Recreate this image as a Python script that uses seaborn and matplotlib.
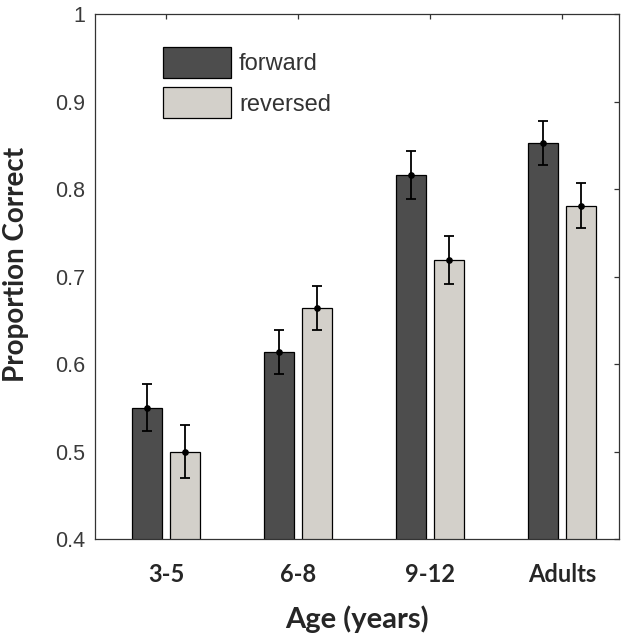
import matplotlib
matplotlib.use("Agg")
import matplotlib.pyplot as plt
import seaborn as sns
import pandas as pd
import numpy as np

ages = ["3-5", "6-8", "9-12", "Adults"]
conditions = ["forward", "reversed"]
forward = [0.550, 0.614, 0.816, 0.853]
reversed_ = [0.500, 0.664, 0.719, 0.781]
forward_err = [0.027, 0.025, 0.027, 0.025]
reversed_err = [0.030, 0.025, 0.027, 0.026]
yticks = [0.4, 0.5, 0.6, 0.7, 0.8, 0.9, 1.0]
ytick_labels = ["0.4", "0.5", "0.6", "0.7", "0.8", "0.9", "1"]

df = pd.DataFrame({
    "age": ages * 2,
    "cond": [conditions[0]] * 4 + [conditions[1]] * 4,
    "value": forward + reversed_,
})
errs = {conditions[0]: forward_err, conditions[1]: reversed_err}

sns.set_theme(style="white")
fig = plt.figure(figsize=(6.24, 6.37), dpi=100)
ax = fig.add_axes([95 / 624, 1 - 539 / 637, (619 - 95) / 624, (539 - 14) / 637])

sns.barplot(data=df, x="age", y="value", hue="cond", order=ages,
            hue_order=conditions,
            palette={"forward": "#4d4d4d", "reversed": "#d4d0c8"},
            width=0.576, gap=0.21, edgecolor="black", linewidth=0.9,
            errorbar=None, ax=ax, legend=True)

for cont, cond in zip(ax.containers, conditions):
    xs = [p.get_x() + p.get_width() / 2 for p in cont.patches]
    ys = [p.get_y() + p.get_height() for p in cont.patches]
    ax.errorbar(xs, ys, yerr=errs[cond], fmt="o", color="black", ms=3.8,
                elinewidth=1.3, capsize=3.8, capthick=1.3, zorder=5)

ax.set_ylim(0.4, 1.0)
ax.set_xlim(-0.538, 3.43)
ax.set_yticks(yticks)
ax.set_yticklabels(ytick_labels, fontfamily="Liberation Sans", fontsize=15.5,
                   color="#3a3a3a")
ax.set_xticks(range(len(ages)))
ax.set_xticklabels(ages, fontfamily="Lato", fontweight="bold", fontsize=17)
ax.tick_params(axis="both", direction="in", length=3.8, width=0.9,
               top=True, right=True, color="#333333")
ax.tick_params(axis="x", pad=17)
ax.tick_params(axis="y", pad=7)
for s in ax.spines.values():
    s.set_visible(True)
    s.set_color("#333333")
    s.set_linewidth(0.9)

ax.set_xlabel("Age (years)", fontfamily="Lato", fontweight="bold",
              fontsize=21, labelpad=14)
ax.set_ylabel("Proportion Correct", fontfamily="Lato", fontweight="bold",
              fontsize=20)
ax.yaxis.set_label_coords(-66 / 524, (539 - 264) / 525)

leg = ax.legend(loc="upper left", bbox_to_anchor=(163 / 624, 1 - 47 / 637),
                bbox_transform=fig.transFigure, frameon=False,
                prop={"family": "Liberation Sans", "size": 17},
                handlelength=2.88, handleheight=1.64, handletextpad=0.34,
                labelspacing=0.4, borderpad=0, borderaxespad=0, title=None)
for t in leg.get_texts():
    t.set_color("#333333")

fig.savefig("out.png", dpi=100)
